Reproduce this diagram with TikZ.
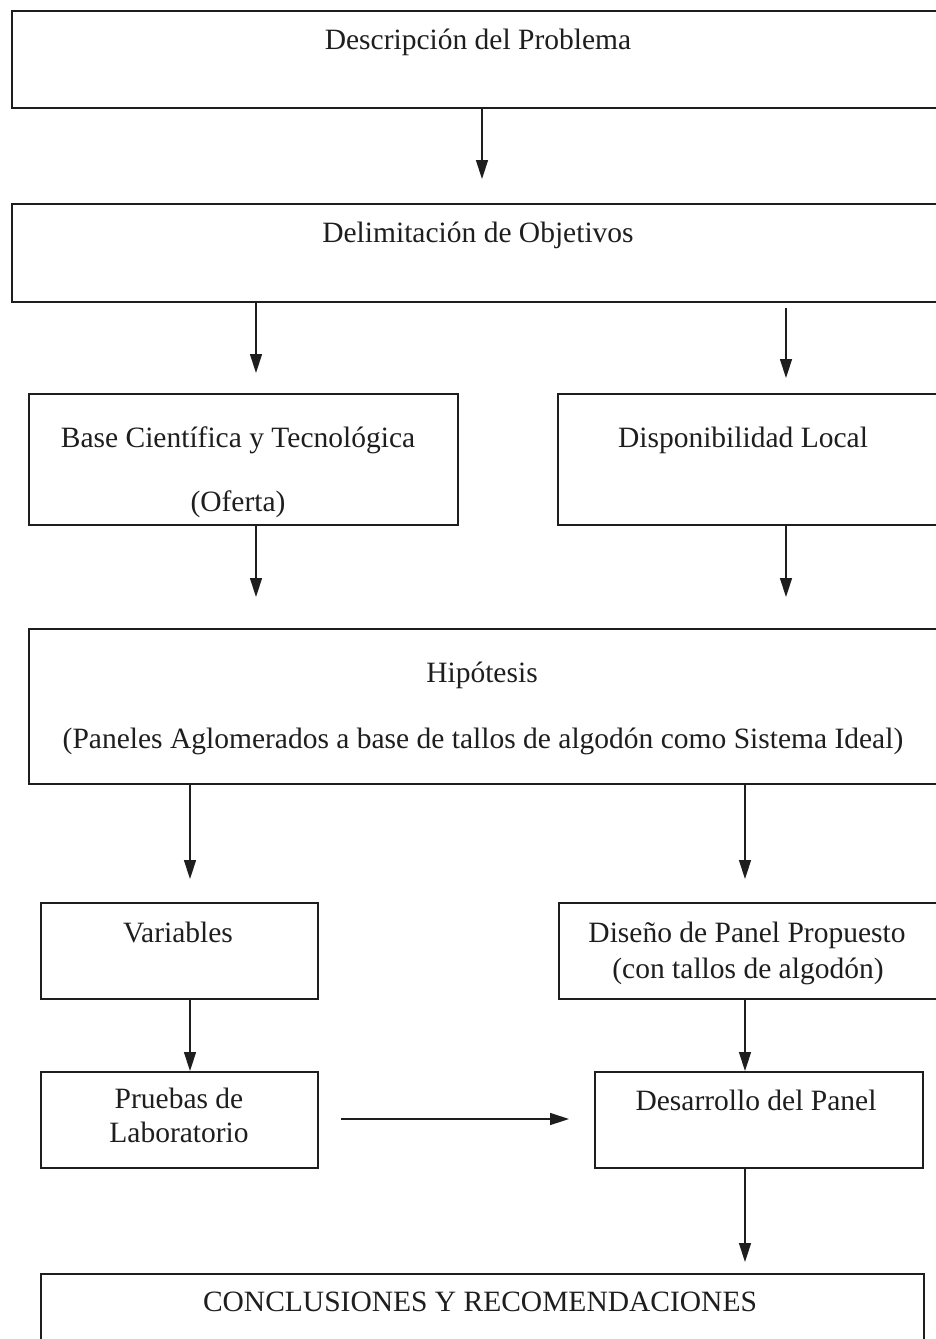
\documentclass[tikz,border=0pt]{standalone}
\usepackage{fontspec}
\setmainfont{Liberation Serif}
\usetikzlibrary{arrows.meta}
\definecolor{ink}{HTML}{1E1E1E}
\tikzset{
  box/.style={draw=ink, line width=2pt, rectangle, anchor=north west, inner sep=0pt},
  lbl/.style={anchor=base, inner sep=0pt, text=ink, font=\fontsize{29.5}{34}\selectfont},
  arr/.style={draw=ink, line width=1.4pt, -{Triangle[length=19pt,width=12pt]}},
}
\begin{document}
\begin{tikzpicture}[x=1pt,y=-1pt]
\useasboundingbox (0,0) rectangle (936,1339);
\clip (0,0) rectangle (936,1339);
\fill[white] (0,0) rectangle (936,1339);
% boxes
\node[box, minimum width=1000pt, minimum height=97pt] (b1) at (11,10) {};
\node[box, minimum width=1000pt, minimum height=98pt] (b2) at (11,203) {};
\node[box, minimum width=429pt, minimum height=131pt] (b3) at (28,393) {};
\node[box, minimum width=600pt, minimum height=131pt] (b4) at (557,393) {};
\node[box, minimum width=1000pt, minimum height=155pt] (b5) at (28,628) {};
\node[box, minimum width=277pt, minimum height=96pt] (b6) at (40,902) {};
\node[box, minimum width=600pt, minimum height=96pt] (b7) at (558,902) {};
\node[box, minimum width=277pt, minimum height=96pt] (b8) at (40,1071) {};
\node[box, minimum width=328pt, minimum height=96pt] (b9) at (594,1071) {};
\node[box, minimum width=883pt, minimum height=200pt] (b10) at (40,1273) {};
% labels
\node[lbl] (t1) at (478,49) {Descripción del Problema};
\node[lbl] (t2) at (478,242) {Delimitación de Objetivos};
\node[lbl] (t3a) at (238,447) {Base Científica y Tecnológica};
\node[lbl] (t3b) at (238,511) {(Oferta)};
\node[lbl] (t4) at (743,447) {Disponibilidad Local};
\node[lbl] (t5a) at (482,682) {Hipótesis};
\node[lbl] (t5b) at (483,748) {(Paneles Aglomerados a base de tallos de algodón como Sistema Ideal)};
\node[lbl] (t6) at (178,942) {Variables};
\node[lbl] (t7a) at (747,942) {Diseño de Panel Propuesto};
\node[lbl] (t7b) at (748,978) {(con tallos de algodón)};
\node[lbl] (t8a) at (179,1108) {Pruebas de};
\node[lbl] (t8b) at (179,1142) {Laboratorio};
\node[lbl] (t9) at (756,1110) {Desarrollo del Panel};
\node[lbl] (t10) at (480,1311) {CONCLUSIONES Y RECOMENDACIONES};
% arrow ends
\coordinate (e1) at (482,179);
\coordinate (e2l) at (256,373);
\coordinate (e2r) at (786,378);
\coordinate (e3) at (256,597);
\coordinate (e4) at (786,597);
\coordinate (e5l) at (190,879);
\coordinate (e5r) at (745,879);
\coordinate (hs) at (341,1119);
\coordinate (he) at (569,1119);
\coordinate (e9) at (745,1262);
% connectors
\draw[arr] (b1.south -| e1) -- (e1);
\draw[arr] (b2.south -| e2l) -- (e2l);
\draw[arr] ([yshift=-5pt]b2.south -| e2r) -- (e2r);
\draw[arr] (b3.south -| e3) -- (e3);
\draw[arr] (b4.south -| e4) -- (e4);
\draw[arr] (b5.south -| e5l) -- (e5l);
\draw[arr] (b5.south -| e5r) -- (e5r);
\draw[arr] (b6.south -| e5l) -- (b8.north -| e5l);
\draw[arr] (b7.south -| e5r) -- (b9.north -| e5r);
\draw[arr] (hs) -- (he);
\draw[arr] (b9.south -| e9) -- (e9);
\end{tikzpicture}
\end{document}
